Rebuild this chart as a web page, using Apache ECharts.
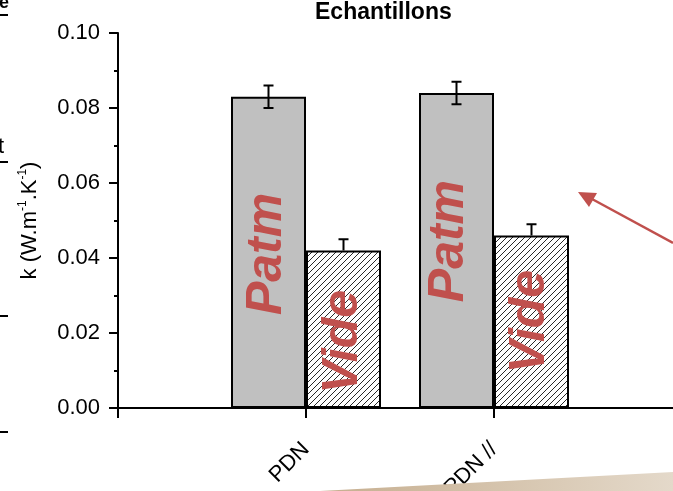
<!DOCTYPE html>
<html><head><meta charset="utf-8">
<script src="https://cdn.jsdelivr.net/npm/echarts@6/dist/echarts.min.js"></script>
<style>html,body{margin:0;padding:0;background:#fff}#c{width:673px;height:491px}</style>
</head><body><div id="c"></div>
<script>
// ---- data ----
const categories = ['', 'PDN', 'PDN //', ''];
const patmValues = [null, 0.083, 0.084, null];
const videValues = [null, 0.042, 0.046, null];
const patmErrUp = [null, 0.003, 0.003, null];
const patmErrDown = [null, 0.003, 0.003, null];
const videErrUp = [null, 0.003, 0.003, null];
const videErrDown = [null, 0, 0, null];
const seriesNames = ['Patm', 'Vide'];
const yMin = 0, yMax = 0.10, yStep = 0.02;

// ---- styling ----
const FONT = "'Liberation Sans', Arial, sans-serif";
const RED = '#c0504d';
const BW = 75;

const hc = document.createElement('canvas');
hc.width = 6; hc.height = 6;
const g = hc.getContext('2d');
g.fillStyle = '#fff'; g.fillRect(0, 0, 6, 6);
g.strokeStyle = '#111'; g.lineWidth = 0.9;
g.beginPath();
g.moveTo(0, 6); g.lineTo(6, 0);
g.moveTo(-1, 1); g.lineTo(1, -1);
g.moveTo(5, 7); g.lineTo(7, 5);
g.stroke();

const labelBase = {
  show: true, rotate: 90, color: RED, fontFamily: FONT, fontSize: 50,
  fontWeight: 'bold', fontStyle: 'italic', align: 'center', verticalAlign: 'middle',
  formatter: '{a}'
};
const patmLabelPos = [null, ['48%', '50.5%'], ['40%', '47%'], null];
const videLabelPos = [null, ['50%', '58%'], ['48%', '50%'], null];

function barData(vals, pos) {
  return vals.map((v, i) => v == null ? '-' : { value: v, label: Object.assign({}, labelBase, { position: pos[i] }) });
}

function errSeries(vals, up, down, off) {
  const data = [];
  vals.forEach((v, i) => { if (v != null) data.push([i, v, up[i], down[i]]); });
  return {
    type: 'custom', z: 10, silent: true,
    encode: { x: 0, y: 1 },
    data: data,
    renderItem: function (params, api) {
      const x = api.value(0), v = api.value(1), u = api.value(2), d = api.value(3);
      const pt = api.coord([x, v + u]);
      const pb = api.coord([x, v - d]);
      const cx = pt[0] + off;
      const st = { stroke: '#000', lineWidth: 2 };
      const ch = [
        { type: 'line', shape: { x1: cx, y1: pt[1], x2: cx, y2: pb[1] }, style: st },
        { type: 'line', shape: { x1: cx - 5, y1: pt[1], x2: cx + 5, y2: pt[1] }, style: st }
      ];
      if (d > 0) ch.push({ type: 'line', shape: { x1: cx - 5, y1: pb[1], x2: cx + 5, y2: pb[1] }, style: st });
      return { type: 'group', children: ch };
    }
  };
}

const chart = echarts.init(document.getElementById('c'), null, { renderer: 'canvas' });
const axisLine = { show: true, lineStyle: { color: '#000', width: 2 } };

chart.setOption({
  animation: false,
  backgroundColor: '#fff',
  title: {
    text: 'Echantillons', left: 315, top: 1, padding: 0,
    textStyle: { fontFamily: FONT, fontSize: 23, fontWeight: 'bold', color: '#000' }
  },
  grid: { left: 118, top: 33, width: 564, height: 375, containLabel: false, outerBoundsMode: 'none' },
  xAxis: [{
    type: 'category', data: categories, boundaryGap: false, position: 'bottom',
    axisLine: axisLine,
    axisTick: { show: true, inside: false, length: 10, interval: 0, lineStyle: { color: '#000', width: 2 } },
    axisLabel: { interval: 0, rotate: 45, margin: 38, fontFamily: FONT, fontSize: 22, color: '#000' },
    splitLine: { show: false }
  }, {
    type: 'category', data: categories, boundaryGap: false, position: 'top',
    axisLine: axisLine,
    axisTick: { show: true, inside: true, length: 3, interval: 0, lineStyle: { color: '#000', width: 2 } },
    axisLabel: { show: false }, splitLine: { show: false }
  }],
  yAxis: [{
    type: 'value', min: yMin, max: yMax, interval: yStep,
    axisLine: axisLine,
    axisTick: { show: true, inside: false, length: 9, lineStyle: { color: '#000', width: 2 } },
    minorTick: { show: true, splitNumber: 2, length: 4, lineStyle: { color: '#000', width: 2 } },
    axisLabel: { margin: 18, fontFamily: FONT, fontSize: 22, color: '#000', formatter: v => v.toFixed(2) },
    splitLine: { show: false },
    name: 'k (W.m{s|-1}.K{s|-1})',
    nameLocation: 'middle', nameGap: 76, nameRotate: 90,
    nameTextStyle: {
      fontFamily: FONT, fontSize: 22, color: '#000',
      rich: { s: { fontFamily: FONT, fontSize: 12, color: '#000', verticalAlign: 'top', lineHeight: 25 } }
    }
  }, {
    type: 'value', min: yMin, max: yMax, interval: yStep, position: 'right',
    axisLine: axisLine, axisTick: { show: false }, axisLabel: { show: false }, splitLine: { show: false }
  }],
  series: [{
    name: seriesNames[0], type: 'bar', barWidth: BW, barGap: '0%', z: 2,
    itemStyle: { color: '#c0c0c0', borderColor: '#000', borderWidth: 2 },
    data: barData(patmValues, patmLabelPos)
  }, {
    name: seriesNames[1], type: 'bar', barWidth: BW, barGap: '0%', z: 2,
    itemStyle: { color: { image: hc, repeat: 'repeat' }, borderColor: '#000', borderWidth: 2 },
    data: barData(videValues, videLabelPos)
  },
  errSeries(patmValues, patmErrUp, patmErrDown, -BW / 2),
  errSeries(videValues, videErrUp, videErrDown, BW / 2)
  ],
  graphic: [
    { type: 'text', left: -1, top: -6, style: { text: 'e', font: "bold 18px " + FONT, fill: '#000' }, z: 100 },
    { type: 'rect', shape: { x: 0, y: 14, width: 8, height: 2 }, style: { fill: '#000' }, z: 100 },
    { type: 'text', left: -2, top: 136, style: { text: 't', font: "22px " + FONT, fill: '#000' }, z: 100 },
    { type: 'rect', shape: { x: 0, y: 161, width: 8, height: 2 }, style: { fill: '#000' }, z: 100 },
    { type: 'rect', shape: { x: 0, y: 315, width: 8, height: 2 }, style: { fill: '#000' }, z: 100 },
    { type: 'rect', shape: { x: 0, y: 431, width: 8, height: 2 }, style: { fill: '#000' }, z: 100 },
    { type: 'line', shape: { x1: 673, y1: 243, x2: 592, y2: 199 }, style: { stroke: RED, lineWidth: 2.5 }, z: 100 },
    { type: 'polygon', shape: { points: [[578, 192], [597, 193], [589, 207]] }, style: { fill: RED }, z: 100 },
    { type: 'polygon', shape: { points: [[320, 491], [673, 472], [673, 491]] },
      style: { fill: new echarts.graphic.LinearGradient(0, 0, 1, 0, [{ offset: 0, color: '#c6ae8f' }, { offset: 1, color: '#e4d9ca' }]) }, z: 100 }
  ]
});
</script></body></html>
